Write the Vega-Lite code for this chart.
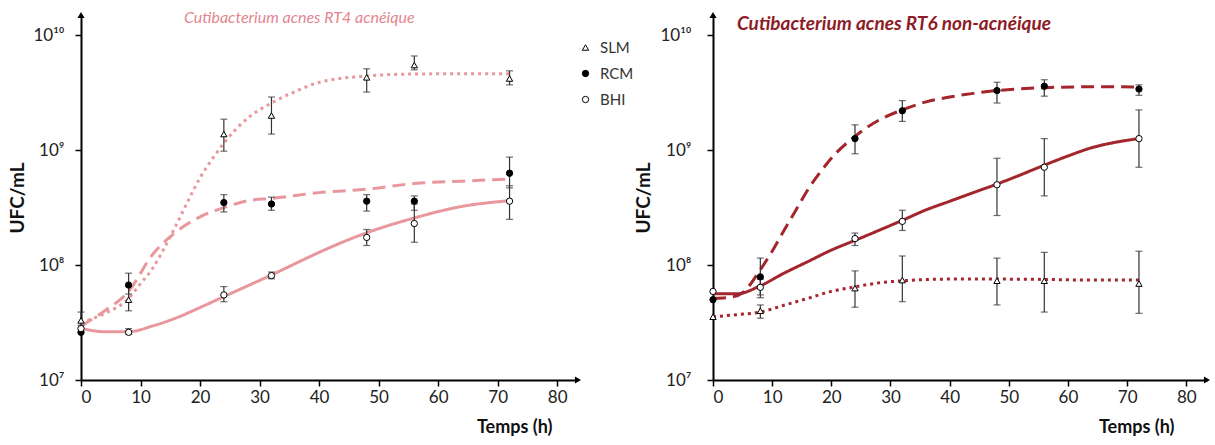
{
  "$schema": "https://vega.github.io/schema/vega-lite/v6.json",
  "background": "white",
  "padding": {"left": 8, "top": 9, "right": 5, "bottom": 0},
  "config": {
    "font": "Lato",
    "view": {"stroke": null},
    "axis": {"grid": false, "domainColor": "black", "domainWidth": 2, "tickColor": "black", "tickWidth": 1.5, "tickSize": 6, "labelColor": "#222", "labelFontSize": 17, "titleColor": "#111", "titleFontWeight": "bold", "titleFontSize": 18}
  },
  "datasets": {
    "pts": [
      {"panel": "RT4", "medium": "SLM", "t": 0, "v": 3.3e7, "lo": 3.0e7, "hi": 3.9e7},
      {"panel": "RT4", "medium": "SLM", "t": 8, "v": 5.0e7, "lo": 4.0e7, "hi": 6.6e7},
      {"panel": "RT4", "medium": "SLM", "t": 24, "v": 1.38e9, "lo": 9.8e8, "hi": 1.86e9},
      {"panel": "RT4", "medium": "SLM", "t": 32, "v": 2.0e9, "lo": 1.38e9, "hi": 2.9e9},
      {"panel": "RT4", "medium": "SLM", "t": 48, "v": 4.3e9, "lo": 3.2e9, "hi": 5.1e9},
      {"panel": "RT4", "medium": "SLM", "t": 56, "v": 5.5e9, "lo": 5.0e9, "hi": 6.6e9},
      {"panel": "RT4", "medium": "SLM", "t": 72, "v": 4.2e9, "lo": 3.7e9, "hi": 4.9e9},
      {"panel": "RT4", "medium": "RCM", "t": 0, "v": 2.6e7, "lo": null, "hi": null},
      {"panel": "RT4", "medium": "RCM", "t": 8, "v": 6.7e7, "lo": 5.6e7, "hi": 8.5e7},
      {"panel": "RT4", "medium": "RCM", "t": 24, "v": 3.5e8, "lo": 2.9e8, "hi": 4.1e8},
      {"panel": "RT4", "medium": "RCM", "t": 32, "v": 3.4e8, "lo": 3.0e8, "hi": 3.9e8},
      {"panel": "RT4", "medium": "RCM", "t": 48, "v": 3.6e8, "lo": 2.95e8, "hi": 4.1e8},
      {"panel": "RT4", "medium": "RCM", "t": 56, "v": 3.6e8, "lo": 3.0e8, "hi": 4.0e8},
      {"panel": "RT4", "medium": "RCM", "t": 72, "v": 6.3e8, "lo": 4.7e8, "hi": 8.7e8},
      {"panel": "RT4", "medium": "BHI", "t": 0, "v": 2.8e7, "lo": null, "hi": null},
      {"panel": "RT4", "medium": "BHI", "t": 8, "v": 2.6e7, "lo": 2.5e7, "hi": 2.8e7},
      {"panel": "RT4", "medium": "BHI", "t": 24, "v": 5.5e7, "lo": 4.8e7, "hi": 6.5e7},
      {"panel": "RT4", "medium": "BHI", "t": 32, "v": 8.1e7, "lo": 7.6e7, "hi": 8.7e7},
      {"panel": "RT4", "medium": "BHI", "t": 48, "v": 1.74e8, "lo": 1.48e8, "hi": 2.04e8},
      {"panel": "RT4", "medium": "BHI", "t": 56, "v": 2.3e8, "lo": 1.58e8, "hi": 3.4e8},
      {"panel": "RT4", "medium": "BHI", "t": 72, "v": 3.6e8, "lo": 2.5e8, "hi": 4.9e8},
      {"panel": "RT6", "medium": "SLM", "t": 0, "v": 3.55e7, "lo": null, "hi": null},
      {"panel": "RT6", "medium": "SLM", "t": 8, "v": 4.0e7, "lo": 3.45e7, "hi": 4.5e7},
      {"panel": "RT6", "medium": "SLM", "t": 24, "v": 6.3e7, "lo": 4.3e7, "hi": 8.9e7},
      {"panel": "RT6", "medium": "SLM", "t": 32, "v": 7.4e7, "lo": 4.8e7, "hi": 1.2e8},
      {"panel": "RT6", "medium": "SLM", "t": 48, "v": 7.3e7, "lo": 4.5e7, "hi": 1.15e8},
      {"panel": "RT6", "medium": "SLM", "t": 56, "v": 7.3e7, "lo": 3.9e7, "hi": 1.29e8},
      {"panel": "RT6", "medium": "SLM", "t": 72, "v": 6.9e7, "lo": 3.8e7, "hi": 1.32e8},
      {"panel": "RT6", "medium": "RCM", "t": 0, "v": 5.0e7, "lo": null, "hi": null},
      {"panel": "RT6", "medium": "RCM", "t": 8, "v": 7.9e7, "lo": 5.5e7, "hi": 1.15e8},
      {"panel": "RT6", "medium": "RCM", "t": 24, "v": 1.26e9, "lo": 9.3e8, "hi": 1.66e9},
      {"panel": "RT6", "medium": "RCM", "t": 32, "v": 2.2e9, "lo": 1.78e9, "hi": 2.7e9},
      {"panel": "RT6", "medium": "RCM", "t": 48, "v": 3.3e9, "lo": 2.57e9, "hi": 3.9e9},
      {"panel": "RT6", "medium": "RCM", "t": 56, "v": 3.6e9, "lo": 2.95e9, "hi": 4.1e9},
      {"panel": "RT6", "medium": "RCM", "t": 72, "v": 3.4e9, "lo": 3.0e9, "hi": 3.7e9},
      {"panel": "RT6", "medium": "BHI", "t": 0, "v": 5.9e7, "lo": null, "hi": null},
      {"panel": "RT6", "medium": "BHI", "t": 8, "v": 6.4e7, "lo": 5.2e7, "hi": 7.5e7},
      {"panel": "RT6", "medium": "BHI", "t": 24, "v": 1.7e8, "lo": 1.48e8, "hi": 1.9e8},
      {"panel": "RT6", "medium": "BHI", "t": 32, "v": 2.4e8, "lo": 2.0e8, "hi": 3.0e8},
      {"panel": "RT6", "medium": "BHI", "t": 48, "v": 5.0e8, "lo": 2.7e8, "hi": 8.5e8},
      {"panel": "RT6", "medium": "BHI", "t": 56, "v": 7.1e8, "lo": 4.0e8, "hi": 1.26e9},
      {"panel": "RT6", "medium": "BHI", "t": 72, "v": 1.26e9, "lo": 7.1e8, "hi": 2.24e9}
    ],
    "fit": [
      {"panel": "RT4", "medium": "SLM", "t": 0, "v": 3.16e7},
      {"panel": "RT4", "medium": "SLM", "t": 4, "v": 3.8e7},
      {"panel": "RT4", "medium": "SLM", "t": 8, "v": 5.13e7},
      {"panel": "RT4", "medium": "SLM", "t": 10, "v": 6.9e7},
      {"panel": "RT4", "medium": "SLM", "t": 12, "v": 9.3e7},
      {"panel": "RT4", "medium": "SLM", "t": 14, "v": 1.41e8},
      {"panel": "RT4", "medium": "SLM", "t": 16, "v": 2.24e8},
      {"panel": "RT4", "medium": "SLM", "t": 18, "v": 3.63e8},
      {"panel": "RT4", "medium": "SLM", "t": 20, "v": 5.75e8},
      {"panel": "RT4", "medium": "SLM", "t": 22, "v": 8.3e8},
      {"panel": "RT4", "medium": "SLM", "t": 24, "v": 1.15e9},
      {"panel": "RT4", "medium": "SLM", "t": 28, "v": 1.9e9},
      {"panel": "RT4", "medium": "SLM", "t": 32, "v": 2.57e9},
      {"panel": "RT4", "medium": "SLM", "t": 36, "v": 3.24e9},
      {"panel": "RT4", "medium": "SLM", "t": 40, "v": 3.89e9},
      {"panel": "RT4", "medium": "SLM", "t": 48, "v": 4.42e9},
      {"panel": "RT4", "medium": "SLM", "t": 56, "v": 4.6e9},
      {"panel": "RT4", "medium": "SLM", "t": 64, "v": 4.62e9},
      {"panel": "RT4", "medium": "SLM", "t": 72, "v": 4.62e9},
      {"panel": "RT4", "medium": "RCM", "t": 0, "v": 2.95e7},
      {"panel": "RT4", "medium": "RCM", "t": 4, "v": 4.0e7},
      {"panel": "RT4", "medium": "RCM", "t": 8, "v": 5.9e7},
      {"panel": "RT4", "medium": "RCM", "t": 12, "v": 1.23e8},
      {"panel": "RT4", "medium": "RCM", "t": 16, "v": 1.95e8},
      {"panel": "RT4", "medium": "RCM", "t": 20, "v": 2.63e8},
      {"panel": "RT4", "medium": "RCM", "t": 24, "v": 3.16e8},
      {"panel": "RT4", "medium": "RCM", "t": 28, "v": 3.63e8},
      {"panel": "RT4", "medium": "RCM", "t": 32, "v": 3.8e8},
      {"panel": "RT4", "medium": "RCM", "t": 40, "v": 4.27e8},
      {"panel": "RT4", "medium": "RCM", "t": 48, "v": 4.57e8},
      {"panel": "RT4", "medium": "RCM", "t": 56, "v": 5.13e8},
      {"panel": "RT4", "medium": "RCM", "t": 64, "v": 5.37e8},
      {"panel": "RT4", "medium": "RCM", "t": 72, "v": 5.62e8},
      {"panel": "RT4", "medium": "BHI", "t": 0, "v": 2.82e7},
      {"panel": "RT4", "medium": "BHI", "t": 4, "v": 2.63e7},
      {"panel": "RT4", "medium": "BHI", "t": 8, "v": 2.63e7},
      {"panel": "RT4", "medium": "BHI", "t": 12, "v": 2.95e7},
      {"panel": "RT4", "medium": "BHI", "t": 16, "v": 3.47e7},
      {"panel": "RT4", "medium": "BHI", "t": 20, "v": 4.27e7},
      {"panel": "RT4", "medium": "BHI", "t": 24, "v": 5.31e7},
      {"panel": "RT4", "medium": "BHI", "t": 28, "v": 6.6e7},
      {"panel": "RT4", "medium": "BHI", "t": 32, "v": 8.2e7},
      {"panel": "RT4", "medium": "BHI", "t": 36, "v": 1.03e8},
      {"panel": "RT4", "medium": "BHI", "t": 40, "v": 1.29e8},
      {"panel": "RT4", "medium": "BHI", "t": 48, "v": 1.91e8},
      {"panel": "RT4", "medium": "BHI", "t": 56, "v": 2.57e8},
      {"panel": "RT4", "medium": "BHI", "t": 64, "v": 3.24e8},
      {"panel": "RT4", "medium": "BHI", "t": 72, "v": 3.63e8},
      {"panel": "RT6", "medium": "SLM", "t": 0, "v": 3.55e7},
      {"panel": "RT6", "medium": "SLM", "t": 4, "v": 3.7e7},
      {"panel": "RT6", "medium": "SLM", "t": 8, "v": 3.9e7},
      {"panel": "RT6", "medium": "SLM", "t": 12, "v": 4.47e7},
      {"panel": "RT6", "medium": "SLM", "t": 16, "v": 5.13e7},
      {"panel": "RT6", "medium": "SLM", "t": 20, "v": 5.9e7},
      {"panel": "RT6", "medium": "SLM", "t": 24, "v": 6.46e7},
      {"panel": "RT6", "medium": "SLM", "t": 28, "v": 7.0e7},
      {"panel": "RT6", "medium": "SLM", "t": 32, "v": 7.3e7},
      {"panel": "RT6", "medium": "SLM", "t": 40, "v": 7.55e7},
      {"panel": "RT6", "medium": "SLM", "t": 48, "v": 7.55e7},
      {"panel": "RT6", "medium": "SLM", "t": 56, "v": 7.5e7},
      {"panel": "RT6", "medium": "SLM", "t": 64, "v": 7.4e7},
      {"panel": "RT6", "medium": "SLM", "t": 72, "v": 7.4e7},
      {"panel": "RT6", "medium": "RCM", "t": 0, "v": 5.13e7},
      {"panel": "RT6", "medium": "RCM", "t": 3, "v": 5.25e7},
      {"panel": "RT6", "medium": "RCM", "t": 5, "v": 5.75e7},
      {"panel": "RT6", "medium": "RCM", "t": 8, "v": 9.1e7},
      {"panel": "RT6", "medium": "RCM", "t": 10, "v": 1.32e8},
      {"panel": "RT6", "medium": "RCM", "t": 12, "v": 2.0e8},
      {"panel": "RT6", "medium": "RCM", "t": 14, "v": 3.0e8},
      {"panel": "RT6", "medium": "RCM", "t": 16, "v": 4.5e8},
      {"panel": "RT6", "medium": "RCM", "t": 18, "v": 6.3e8},
      {"panel": "RT6", "medium": "RCM", "t": 20, "v": 8.5e8},
      {"panel": "RT6", "medium": "RCM", "t": 24, "v": 1.32e9},
      {"panel": "RT6", "medium": "RCM", "t": 28, "v": 1.82e9},
      {"panel": "RT6", "medium": "RCM", "t": 32, "v": 2.24e9},
      {"panel": "RT6", "medium": "RCM", "t": 36, "v": 2.63e9},
      {"panel": "RT6", "medium": "RCM", "t": 40, "v": 2.9e9},
      {"panel": "RT6", "medium": "RCM", "t": 44, "v": 3.12e9},
      {"panel": "RT6", "medium": "RCM", "t": 48, "v": 3.3e9},
      {"panel": "RT6", "medium": "RCM", "t": 56, "v": 3.5e9},
      {"panel": "RT6", "medium": "RCM", "t": 64, "v": 3.56e9},
      {"panel": "RT6", "medium": "RCM", "t": 72, "v": 3.55e9},
      {"panel": "RT6", "medium": "BHI", "t": 0, "v": 5.62e7},
      {"panel": "RT6", "medium": "BHI", "t": 4, "v": 5.62e7},
      {"panel": "RT6", "medium": "BHI", "t": 8, "v": 6.6e7},
      {"panel": "RT6", "medium": "BHI", "t": 12, "v": 8.5e7},
      {"panel": "RT6", "medium": "BHI", "t": 16, "v": 1.07e8},
      {"panel": "RT6", "medium": "BHI", "t": 20, "v": 1.35e8},
      {"panel": "RT6", "medium": "BHI", "t": 24, "v": 1.64e8},
      {"panel": "RT6", "medium": "BHI", "t": 28, "v": 2.0e8},
      {"panel": "RT6", "medium": "BHI", "t": 32, "v": 2.45e8},
      {"panel": "RT6", "medium": "BHI", "t": 36, "v": 3.02e8},
      {"panel": "RT6", "medium": "BHI", "t": 40, "v": 3.59e8},
      {"panel": "RT6", "medium": "BHI", "t": 44, "v": 4.27e8},
      {"panel": "RT6", "medium": "BHI", "t": 48, "v": 5.07e8},
      {"panel": "RT6", "medium": "BHI", "t": 52, "v": 6.1e8},
      {"panel": "RT6", "medium": "BHI", "t": 56, "v": 7.4e8},
      {"panel": "RT6", "medium": "BHI", "t": 60, "v": 8.9e8},
      {"panel": "RT6", "medium": "BHI", "t": 64, "v": 1.05e9},
      {"panel": "RT6", "medium": "BHI", "t": 68, "v": 1.17e9},
      {"panel": "RT6", "medium": "BHI", "t": 72, "v": 1.26e9}
    ]
  },
  "resolve": {
    "scale": {"shape": "independent", "fill": "independent"},
    "legend": {"shape": "independent", "fill": "independent"}
  },
  "spacing": 0,
  "hconcat": [
    {
      "width": 497,
      "height": 365,
      "title": {"text": "Cutibacterium acnes RT4  acnéique", "color": "#e3868f", "fontSize": 16, "fontWeight": "normal", "fontStyle": "italic", "font": "Lato", "anchor": "start", "frame": "group", "dx": 103, "dy": 18},
      "layer": [
        {
          "data": {"name": "fit"},
          "transform": [{"filter": "datum.panel == 'RT4'"}],
          "mark": {"type": "line", "color": "#e8979c", "strokeWidth": 3, "interpolate": "monotone"},
          "encoding": {
            "x": {"field": "t", "type": "quantitative", "scale": {"domain": [0, 83.5], "nice": false}, "axis": {"values": [0, 10, 20, 30, 40, 50, 60, 70, 80], "title": "Temps (h)", "titleAlign": "right", "titleAnchor": "end", "titleBaseline": "middle", "titleX": 471, "titleY": 47, "labelPadding": 3}},
            "y": {"field": "v", "type": "quantitative", "title": "UFC/mL", "scale": {"type": "log", "domain": [1e7, 1.5e10], "nice": false}, "axis": {"values": [1e7, 1e8, 1e9, 1e10], "labelExpr": "datum.value >= 5e9 ? '10¹⁰' : datum.value >= 5e8 ? '10⁹' : datum.value >= 5e7 ? '10⁸' : '10⁷'", "title": "UFC/mL", "titleFontSize": 19, "labelPadding": 11, "titlePadding": 5}},
            "strokeDash": {"field": "medium", "type": "nominal", "scale": {"domain": ["SLM", "RCM", "BHI"], "range": [[3, 4], [13, 7], [1, 0]]}, "legend": null}
          }
        },
        {
          "data": {"name": "pts"},
          "transform": [{"filter": "datum.panel == 'RT4' && datum.lo != null"}],
          "mark": {"type": "errorbar", "ticks": {"size": 7}, "color": "#333", "thickness": 1.2},
          "encoding": {
            "x": {"field": "t", "type": "quantitative"},
            "y": {"field": "lo", "type": "quantitative", "title": "UFC/mL"},
            "y2": {"field": "hi"}
          }
        },
        {
          "data": {"name": "pts"},
          "transform": [{"filter": "datum.panel == 'RT4'"}],
          "mark": {"type": "point", "filled": true, "stroke": "black", "strokeWidth": 1, "size": 40, "opacity": 1},
          "encoding": {
            "x": {"field": "t", "type": "quantitative"},
            "y": {"field": "v", "type": "quantitative", "title": "UFC/mL"},
            "shape": {"field": "medium", "type": "nominal", "title": " ", "scale": {"domain": ["SLM", "RCM", "BHI"], "range": ["triangle-up", "circle", "circle"]}, "legend": {"orient": "right", "offset": 0, "titleFontSize": 12, "titlePadding": 13, "labelFontSize": 15, "labelColor": "#333", "symbolSize": 40, "rowPadding": 10, "symbolStrokeWidth": 1, "labelOffset": 7, "padding": 0}},
            "fill": {"field": "medium", "type": "nominal", "title": " ", "scale": {"domain": ["SLM", "RCM", "BHI"], "range": ["white", "black", "white"]}, "legend": {"orient": "right", "offset": 0, "titleFontSize": 12, "titlePadding": 13, "labelFontSize": 15, "labelColor": "#333", "symbolSize": 40, "rowPadding": 10, "symbolStrokeWidth": 1, "labelOffset": 7, "padding": 0}}
          }
        },
        {
          "data": {"values": [{}]},
          "mark": {"type": "point", "shape": "triangle-right", "filled": true, "color": "black", "size": 50, "opacity": 1},
          "encoding": {"x": {"datum": 83.5, "type": "quantitative"}, "y": {"datum": 1e7, "type": "quantitative"}}
        },
        {
          "data": {"values": [{}]},
          "mark": {"type": "point", "shape": "triangle-up", "filled": true, "color": "black", "size": 50, "opacity": 1},
          "encoding": {"x": {"datum": 0, "type": "quantitative"}, "y": {"datum": 1.5e10, "type": "quantitative"}}
        }
      ]
    },
    {
      "width": 494,
      "height": 365,
      "title": {"text": "Cutibacterium acnes RT6  non-acnéique", "color": "#8e1c26", "fontSize": 19, "fontWeight": "bold", "fontStyle": "italic", "font": "Lato", "anchor": "start", "frame": "group", "dx": 24, "dy": 26},
      "layer": [
        {
          "data": {"name": "fit"},
          "transform": [{"filter": "datum.panel == 'RT6'"}],
          "mark": {"type": "line", "color": "#a3262c", "strokeWidth": 3, "interpolate": "monotone"},
          "encoding": {
            "x": {"field": "t", "type": "quantitative", "scale": {"domain": [0, 83.5], "nice": false}, "axis": {"values": [0, 10, 20, 30, 40, 50, 60, 70, 80], "title": "Temps (h)", "titleAlign": "right", "titleAnchor": "end", "titleBaseline": "middle", "titleX": 461, "titleY": 47, "labelPadding": 3}},
            "y": {"field": "v", "type": "quantitative", "title": "UFC/mL", "scale": {"type": "log", "domain": [1e7, 1.5e10], "nice": false}, "axis": {"values": [1e7, 1e8, 1e9, 1e10], "labelExpr": "datum.value >= 5e9 ? '10¹⁰' : datum.value >= 5e8 ? '10⁹' : datum.value >= 5e7 ? '10⁸' : '10⁷'", "title": "UFC/mL", "titleFontSize": 19, "labelPadding": 16, "titlePadding": 6}},
            "strokeDash": {"field": "medium", "type": "nominal", "scale": {"domain": ["SLM", "RCM", "BHI"], "range": [[3, 4], [13, 7], [1, 0]]}, "legend": null}
          }
        },
        {
          "data": {"name": "pts"},
          "transform": [{"filter": "datum.panel == 'RT6' && datum.lo != null"}],
          "mark": {"type": "errorbar", "ticks": {"size": 7}, "color": "#333", "thickness": 1.2},
          "encoding": {
            "x": {"field": "t", "type": "quantitative"},
            "y": {"field": "lo", "type": "quantitative", "title": "UFC/mL"},
            "y2": {"field": "hi"}
          }
        },
        {
          "data": {"name": "pts"},
          "transform": [{"filter": "datum.panel == 'RT6'"}],
          "mark": {"type": "point", "filled": true, "stroke": "black", "strokeWidth": 1, "size": 40, "opacity": 1},
          "encoding": {
            "x": {"field": "t", "type": "quantitative"},
            "y": {"field": "v", "type": "quantitative", "title": "UFC/mL"},
            "shape": {"field": "medium", "type": "nominal", "scale": {"domain": ["SLM", "RCM", "BHI"], "range": ["triangle-up", "circle", "circle"]}, "legend": null},
            "fill": {"field": "medium", "type": "nominal", "scale": {"domain": ["SLM", "RCM", "BHI"], "range": ["white", "black", "white"]}, "legend": null}
          }
        },
        {
          "data": {"values": [{}]},
          "mark": {"type": "point", "shape": "triangle-right", "filled": true, "color": "black", "size": 50, "opacity": 1},
          "encoding": {"x": {"datum": 83.5, "type": "quantitative"}, "y": {"datum": 1e7, "type": "quantitative"}}
        },
        {
          "data": {"values": [{}]},
          "mark": {"type": "point", "shape": "triangle-up", "filled": true, "color": "black", "size": 50, "opacity": 1},
          "encoding": {"x": {"datum": 0, "type": "quantitative"}, "y": {"datum": 1.5e10, "type": "quantitative"}}
        }
      ]
    }
  ]
}
